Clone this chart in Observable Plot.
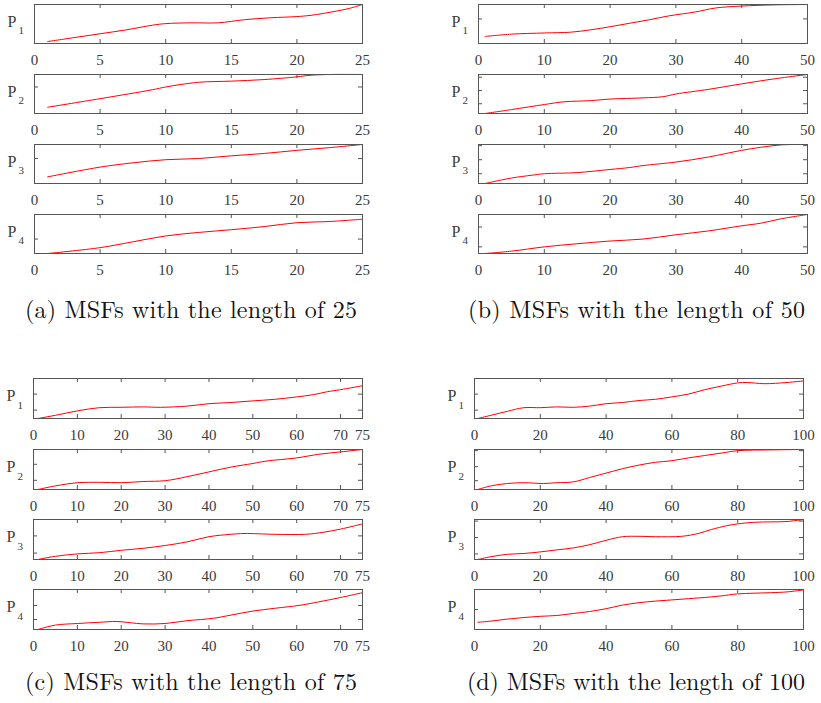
<!DOCTYPE html>
<html>
<head>
<meta charset="utf-8">
<script src="https://cdn.jsdelivr.net/npm/d3@7"></script>
<script src="https://cdn.jsdelivr.net/npm/@observablehq/plot@0.6"></script>
<style>
  body { margin: 0; background: white; }
  #root { position: relative; width: 821px; height: 703px; overflow: hidden; background: white; }
  #root > * { position: absolute; }
  #root svg.plot, #root svg.plot text { font-family: "Liberation Serif", "Times New Roman", Times, serif !important; }
  #root svg.cap text { font-family: "Latin Modern Roman", "Liberation Serif", serif; }
</style>
</head>
<body>
<div id="root"></div>
<script>
// ---------- data (y as fraction of panel height) ----------
// (a) length 25
const A1x = [1,3,5,7,9,10,12,14,16,18,20,21,22,23,24,25];
const A1y = [0.05,0.15,0.25,0.35,0.47,0.51,0.53,0.53,0.61,0.66,0.69,0.72,0.77,0.83,0.9,1.0];
const A2x = [1,5,9,10,12.5,15,17.5,20,21,22.5,25];
const A2y = [0.16,0.38,0.61,0.68,0.8,0.83,0.87,0.94,0.98,1.0,1.0];
const A3x = [1,5,7.5,10,12.5,15,17.5,20,22.5,25];
const A3y = [0.17,0.42,0.53,0.61,0.64,0.71,0.77,0.85,0.92,1.0];
const A4x = [1,5,7.5,10,12.5,15,17.5,20,22.5,25];
const A4y = [0,0.15,0.3,0.45,0.54,0.61,0.69,0.79,0.82,0.88];
// (b) length 50
const B1x = [1,5,10,14,17,20,23,26,29,33,36,40,45,50];
const B1y = [0.18,0.24,0.27,0.29,0.35,0.43,0.52,0.61,0.71,0.81,0.91,0.96,0.99,1.0];
const B2x = [1,5,10,13,17,20,25,28,30,35,40,45,50];
const B2y = [0,0.1,0.23,0.3,0.33,0.37,0.4,0.43,0.5,0.62,0.76,0.89,1.0];
const B3x = [1,5,8,10,15,20,23,25,30,35,40,43,46,50];
const B3y = [0,0.14,0.21,0.25,0.28,0.36,0.41,0.46,0.55,0.68,0.85,0.93,0.99,1.0];
const B4x = [1,5,10,15,20,25,30,35,40,43,46,50];
const B4y = [0,0.06,0.17,0.25,0.32,0.37,0.48,0.58,0.71,0.78,0.89,1.0];
// (c) length 75
const C1x = [1,5,10,15,20,25,29,35,40,45,50,55,60,64,67,70,75];
const C1y = [0,0.08,0.19,0.27,0.28,0.29,0.28,0.31,0.37,0.4,0.44,0.48,0.54,0.6,0.67,0.72,0.82];
const C2x = [1,5,10,15,20,25,30,35,40,45,50,53,60,65,70,75];
const C2y = [0,0.09,0.17,0.18,0.17,0.2,0.22,0.32,0.44,0.56,0.65,0.71,0.79,0.88,0.94,1.0];
const C3x = [1,5,10,15,20,25,30,35,40,45,48,55,62,66,70,75];
const C3y = [0,0.08,0.14,0.17,0.23,0.28,0.35,0.44,0.57,0.63,0.65,0.63,0.63,0.68,0.76,0.89];
const C4x = [1,5,10,15,19,25,30,35,41,45,50,55,61,65,70,75];
const C4y = [0,0.11,0.15,0.18,0.2,0.14,0.15,0.22,0.28,0.36,0.46,0.53,0.61,0.69,0.8,0.92];
// (d) length 100
const D1x = [1,5,10,15,20,25,30,35,40,45,50,55,60,65,70,75,80,83,88,95,100];
const D1y = [0,0.08,0.18,0.27,0.27,0.29,0.28,0.31,0.37,0.4,0.45,0.48,0.54,0.61,0.72,0.81,0.89,0.9,0.87,0.9,0.94];
const D2x = [1,5,10,15,21,25,30,35,40,45,50,55,60,65,70,75,80,90,100];
const D2y = [0,0.09,0.15,0.17,0.15,0.17,0.19,0.3,0.41,0.52,0.61,0.68,0.72,0.79,0.85,0.91,0.97,0.99,1.0];
const D3x = [1,5,10,15,20,25,30,35,40,45,50,55,63,68,72,77,80,85,90,95,100];
const D3y = [0,0.07,0.13,0.15,0.19,0.24,0.29,0.37,0.48,0.57,0.58,0.57,0.58,0.65,0.75,0.85,0.89,0.93,0.94,0.95,1.0];
const D4x = [1,5,10,15,20,25,30,35,40,45,50,55,60,65,70,75,80,90,95,100];
const D4y = [0.18,0.21,0.26,0.3,0.33,0.35,0.4,0.45,0.52,0.61,0.67,0.71,0.74,0.77,0.8,0.84,0.89,0.92,0.94,0.99];

// tick labels
const ticksA = [0,5,10,15,20,25];
const ticksB = [0,10,20,30,40,50];
const ticksC = [0,10,20,30,40,50,60,70,75];
const ticksD = [0,20,40,60,80,100];
const lengths = [25, 50, 75, 100];
// inner y-tick marks per subplot
const yTicksA = [[], [0.68], [0.64], [0.37]];
const yTicksB = [[0.63], [0.93,0.59,0.25], [0.97,0.61,0.25], [0.68,0.17]];
const yTicksC = [[0.61,0.21], [0.63,0.23], [0.59,0.16], [0.6,0.25]];
const yTicksD = [[0.61,0.21], [0.97,0.57,0.22], [0.96,0.55,0.14], [0.5]];
const seriesNames = ["1","2","3","4"];
const captions = ["(a) MSFs with the length of 25", "(b) MSFs with the length of 50",
                  "(c) MSFs with the length of 75", "(d) MSFs with the length of 100"];

// ---------- layout ----------
const panels = [
  {xs:[A1x,A2x,A3x,A4x], ys:[A1y,A2y,A3y,A4y], ticks:ticksA, yt:yTicksA, N:lengths[0],
   left:0, ml:34, bw:328, mr:20, tops:[0,70,140,210], mt:4, bh:39, mb:27,
   cap:{left:0, top:290, x:25, len:332}},
  {xs:[B1x,B2x,B3x,B4x], ys:[B1y,B2y,B3y,B4y], ticks:ticksB, yt:yTicksB, N:lengths[1],
   left:444, ml:34, bw:329, mr:14, tops:[0,70,140,210], mt:4, bh:39, mb:27,
   cap:{left:410, top:290, x:58, len:337}},
  {xs:[C1x,C2x,C3x,C4x], ys:[C1y,C2y,C3y,C4y], ticks:ticksC, yt:yTicksC, N:lengths[2],
   left:0, ml:33, bw:329, mr:20, tops:[374,445,515,585], mt:4, bh:40, mb:26,
   cap:{left:0, top:662, x:25, len:332}},
  {xs:[D1x,D2x,D3x,D4x], ys:[D1y,D2y,D3y,D4y], ticks:ticksD, yt:yTicksD, N:lengths[3],
   left:440, ml:34, bw:329, mr:18, tops:[374,445,515,585], mt:4, bh:40, mb:26,
   cap:{left:410, top:662, x:57, len:338}}
];

const root = document.getElementById("root");
const tk = 4;
const serif = "Liberation Serif";

panels.forEach(p => {
  p.xs.forEach((xs, i) => {
    const data = xs.map((x, j) => ({x, y: p.ys[i][j]}));
    const yt = p.yt[i];
    const svg = Plot.plot({
      className: "plot",
      width: p.ml + p.bw + p.mr,
      height: p.mt + p.bh + p.mb,
      marginLeft: p.ml, marginRight: p.mr, marginTop: p.mt, marginBottom: p.mb,
      x: {domain: [0, p.N], ticks: p.ticks, tickSize: 0, tickPadding: 11, label: null},
      y: {domain: [0, 1], axis: null},
      style: {fontFamily: serif, fontSize: "15px", color: "#3a3a3a",
              background: "white", overflow: "visible"},
      marks: [
        Plot.ruleX(p.ticks, {insetTop: p.bh - tk, stroke: "#555"}),
        Plot.ruleX(p.ticks, {insetBottom: p.bh - tk, stroke: "#555"}),
        Plot.ruleY(yt, {insetRight: p.bw - tk, stroke: "#555"}),
        Plot.ruleY(yt, {insetLeft: p.bw - tk, stroke: "#555"}),
        Plot.line(data, {x: "x", y: "y", stroke: "#ff0000", strokeWidth: 1, curve: "catmull-rom"}),
        Plot.frame({stroke: "#555"}),
        Plot.text(["P"], {frameAnchor: "left", text: d => d, dx: -27, dy: 2.5, lineAnchor: "bottom",
                          textAnchor: "start", fontSize: 16, fontFamily: serif, fill: "#3a3a3a"}),
        Plot.text([seriesNames[i]], {frameAnchor: "left", text: d => d, dx: -16, dy: 10, lineAnchor: "bottom",
                          textAnchor: "start", fontSize: 11, fontFamily: serif, fill: "#3a3a3a"})
      ]
    });
    svg.style.left = p.left + "px";
    svg.style.top = p.tops[i] + "px";
    root.appendChild(svg);
  });
});

// captions below each panel
panels.forEach((p, k) => {
  const div = document.createElement("div");
  div.style.left = p.cap.left + "px";
  div.style.top = p.cap.top + "px";
  div.innerHTML = `<svg class="cap" width="411" height="40"><text x="${p.cap.x}" y="28" textLength="${p.cap.len}" lengthAdjust="spacing" font-size="24" fill="#111">${captions[k]}</text></svg>`;
  root.appendChild(div);
});
</script>
</body>
</html>
